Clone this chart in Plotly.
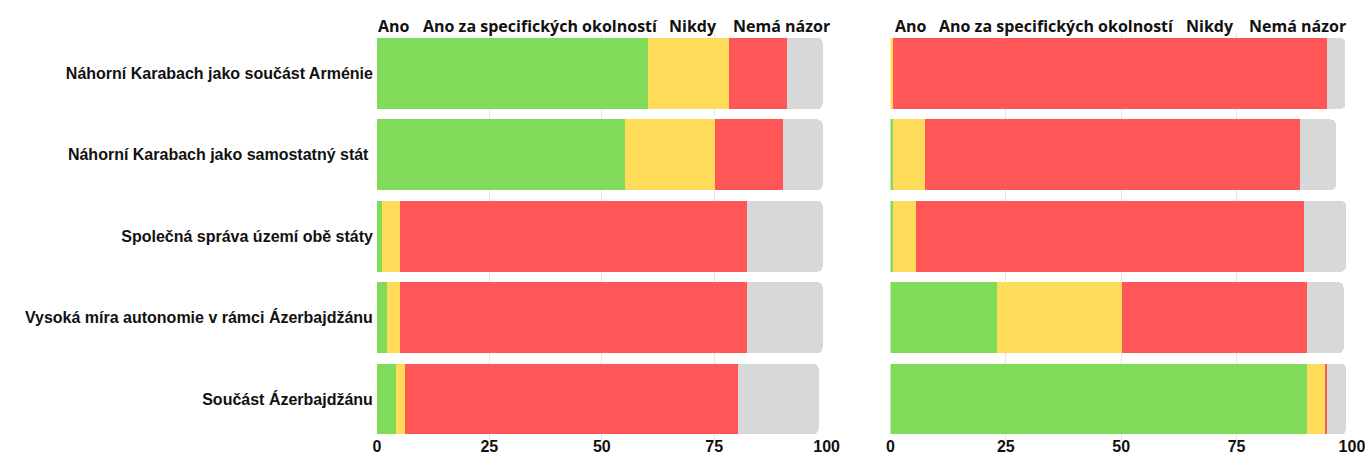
import plotly.graph_objects as go

categories = [
    "Náhorní Karabach jako součást Arménie",
    "Náhorní Karabach jako samostatný stát ",
    "Společná správa území obě státy",
    "Vysoká míra autonomie v rámci Ázerbajdžánu",
    "Součást Ázerbajdžánu",
]
series_names = ["Ano", "Ano za specifických okolností", "Nikdy", "Nemá názor"]
colors = ["#80DB5A", "#FEDC5A", "#FF5757", "#D8D8D8"]

# left panel
left_ano = [60.3, 55.2, 1.1, 2.2, 4.2]
left_spec = [18.0, 20.0, 4.0, 2.9, 2.0]
left_nikdy = [12.9, 15.1, 77.2, 77.2, 74.1]
left_nema = [7.9, 8.8, 16.8, 16.8, 17.9]

# right panel
right_ano = [0.0, 0.6, 0.6, 23.1, 90.3]
right_spec = [0.6, 6.9, 5.0, 27.1, 3.9]
right_nikdy = [94.0, 81.2, 84.1, 40.1, 0.5]
right_nema = [4.0, 7.8, 9.0, 7.9, 4.0]

tick_vals = [0, 25, 50, 75, 100]
tick_text = ["0", "25", "50", "75", "100"]

W, H = 1365, 455
SX, OX = 0.987, 4.3
SY, OY = 0.987, 0.5


def px_x(p):
    return min(((p - OX) / SX) / W, 1.0)


def px_y(p):
    return max(min((H - (p - OY) / SY) / H, 1.0), 0.0)


fig = go.Figure()

left = [left_ano, left_spec, left_nikdy, left_nema]
right = [right_ano, right_spec, right_nikdy, right_nema]

for name, vals, col in zip(series_names, left, colors):
    fig.add_trace(go.Bar(y=categories, x=vals, name=name, orientation="h",
                         marker=dict(color=col, line=dict(width=0)),
                         xaxis="x", yaxis="y", showlegend=False))
for name, vals, col in zip(series_names, right, colors):
    fig.add_trace(go.Bar(y=categories, x=vals, name=name, orientation="h",
                         marker=dict(color=col, line=dict(width=0)),
                         xaxis="x2", yaxis="y2", showlegend=False))

ytop = px_y(33.7)
ybot = px_y(445.2)

axis_common = dict(range=[0, 100], tickvals=tick_vals, ticktext=tick_text,
                   showgrid=True, gridcolor="#E6E6E6", gridwidth=1,
                   zeroline=False, showline=False, ticks="",
                   ticklabelstandoff=-5, ticklabeloverflow="allow",
                   tickfont=dict(family="Liberation Sans", size=16, color="#111111", weight="bold"),
                   fixedrange=True)

fig.update_layout(
    width=W, height=H,
    margin=dict(l=0, r=0, t=0, b=0),
    paper_bgcolor="white", plot_bgcolor="white",
    barmode="stack", bargap=0.13, barcornerradius=5,
    xaxis=dict(domain=[px_x(377), px_x(826.5)], anchor="y", **axis_common),
    xaxis2=dict(domain=[px_x(890.3), px_x(1351.5)], anchor="y2", **axis_common),
    yaxis=dict(domain=[ybot, ytop], autorange="reversed", showgrid=False,
               zeroline=False, ticks="", automargin=False, ticklabelstandoff=3,
               tickfont=dict(family="Liberation Sans", size=16, color="#111111", weight="bold")),
    yaxis2=dict(domain=[ybot, ytop], autorange="reversed", showgrid=False,
                zeroline=False, ticks="", showticklabels=False, anchor="x2"),
)

legend_x_left = [376, 421, 667, 731]
legend_x_right = [893, 937, 1184, 1247]
for xs in (legend_x_left, legend_x_right):
    for name, p in zip(series_names, xs):
        fig.add_annotation(text=name, xref="paper", yref="paper",
                           x=px_x(p), y=px_y(26.5), xanchor="left", yanchor="middle",
                           showarrow=False,
                           font=dict(family="Open Sans", size=16, color="#111111", weight="bold"))

fig.write_html(
    "out.html",
    config={"displayModeBar": False},
    post_script="document.body.style.margin='0';document.body.style.overflow='hidden';",
)
